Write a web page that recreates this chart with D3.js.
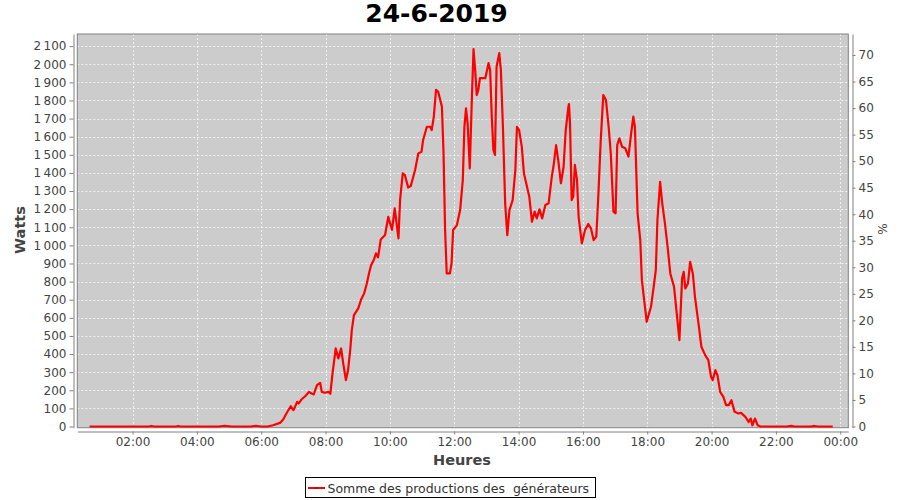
<!DOCTYPE html>
<html>
<head>
<meta charset="utf-8">
<script src="https://cdn.jsdelivr.net/npm/d3@7"></script>
<style>
  html, body { margin: 0; padding: 0; background: #ffffff; }
  svg { display: block; font-family: "DejaVu Sans", sans-serif; }
</style>
</head>
<body>
<svg id="chart" width="900" height="500"></svg>
<script>
// ---- data ----
const chartTitle = "24-6-2019";
const seriesName = "Somme des productions des  générateurs";
const times = [
  "00:40","02:30","02:35","02:40","03:20","03:25","03:30","04:40","04:52","05:05","05:40","05:50","06:00","06:12",
  "06:22","06:35","06:41","06:47","06:55","07:00","07:03","07:07","07:10","07:15","07:22","07:29","07:34","07:38",
  "07:44","07:50","07:53","07:59","08:05","08:09","08:13","08:19","08:24","08:29","08:33","08:38","08:42","08:46",
  "08:49","08:53","09:01","09:06","09:12","09:17","09:21","09:25","09:30","09:34","09:38","09:43","09:51","09:57",
  "10:04","10:09","10:16","10:19","10:24","10:28","10:34","10:39","10:47","10:53","10:59","11:02","11:09","11:15",
  "11:18","11:22","11:26","11:30","11:37","11:40","11:43","11:46","11:52","11:55","11:58","12:05","12:11","12:16",
  "12:19","12:22","12:25","12:29","12:33","12:36","12:39","12:42","12:45","12:48","12:58","13:04","13:07","13:10",
  "13:13","13:16","13:19","13:24","13:27","13:31","13:35","13:39","13:43","13:49","13:54","13:57","14:01","14:06",
  "14:10","14:15","14:20","14:25","14:30","14:34","14:39","14:44","14:50","14:56","15:02","15:05","15:10","15:14",
  "15:19","15:24","15:28","15:33","15:34","15:36","15:39","15:42","15:45","15:49","15:52","15:58","16:04","16:10",
  "16:15","16:20","16:25","16:29","16:33","16:38","16:43","16:48","16:52","16:57","17:01","17:04","17:08","17:13",
  "17:19","17:25","17:30","17:34","17:37","17:42","17:47","17:50","17:59","18:07","18:12","18:16","18:19","18:24",
  "18:28","18:33","18:38","18:43","18:50","18:55","19:00","19:05","19:08","19:11","19:16","19:20","19:25","19:29",
  "19:36","19:41","19:48","19:54","19:59","20:02","20:07","20:11","20:16","20:22","20:27","20:32","20:37","20:43",
  "20:50","20:55","21:03","21:09","21:13","21:16","21:21","21:26","21:31","22:20","22:28","22:35","23:05","23:12",
  "23:18","23:46"
];
const watts = [
  0,0,3,0,0,3,0,0,4,0,0,4,0,0,
  7,20,39,72,112,90,108,136,127,149,167,191,182,177,
  228,241,191,186,191,181,293,431,376,431,348,256,311,422,
  532,615,652,698,735,790,845,891,919,956,934,1033,1057,1158,
  1085,1204,1039,1250,1398,1388,1320,1328,1416,1508,1517,1582,1655,1655,
  1637,1711,1858,1849,1766,1517,1085,845,845,901,1085,1112,1195,1361,
  1655,1757,1674,1425,1821,2083,1969,1830,1858,1923,1923,2006,1969,1711,
  1527,1499,1987,2061,1969,1637,1232,1057,1195,1250,1416,1655,1637,1545,
  1398,1333,1269,1130,1186,1149,1199,1149,1223,1232,1379,1434,1554,1471,
  1343,1434,1637,1766,1780,1674,1250,1269,1444,1361,1158,1011,1085,1118,
  1094,1029,1048,1287,1564,1830,1803,1655,1508,1186,1177,1554,1591,1545,
  1536,1490,1619,1711,1655,1177,1029,808,578,661,771,864,1140,1351,
  1232,1122,992,845,771,624,477,818,854,762,790,909,845,716,
  560,440,394,366,274,256,311,283,191,164,118,118,145,81,
  72,75,53,25,44,7,44,7,0,0,3,0,0,3,
  0,0
];
const leftTicks = d3.range(0, 2101, 100);
const rightTicks = d3.range(0, 71, 5);
const xLabel = "Heures";
const yLabel = "Watts";
const y2Label = "%";

// ---- layout ----
const svg = d3.select("#chart");
const W = 900, H = 500;
const plot = { left: 77.3, right: 848.3, top: 34, bottom: 427.7 };
svg.append("rect").attr("width", W).attr("height", H).attr("fill", "#ffffff");

const day = "2019-06-24";
const parse = d3.timeParse("%Y-%m-%d %H:%M");
const data = times.map((t, i) => ({ t: parse(day + " " + t), v: watts[i] }));

const x = d3.scaleTime()
  .domain([parse(day + " 00:17"), d3.timeMinute.offset(parse(day + " 00:00"), 24 * 60 + 15)])
  .range([plot.left, plot.right]);
const y = d3.scaleLinear().domain([-6.6, 2167]).range([plot.bottom, plot.top]);
const y2 = d3.scaleLinear().domain([-0.23, 73.96]).range([plot.bottom, plot.top]);

// plot background
svg.append("rect")
  .attr("x", plot.left).attr("y", plot.top)
  .attr("width", plot.right - plot.left).attr("height", plot.bottom - plot.top)
  .attr("fill", "#cccccc");

// grid
const xTicks = x.ticks(d3.timeHour.every(2));
const grid = svg.append("g").attr("stroke", "#ffffff").attr("stroke-width", 0.7)
  .attr("stroke-dasharray", "2,2");
grid.selectAll("line.h").data(leftTicks).join("line")
  .attr("x1", plot.left).attr("x2", plot.right)
  .attr("y1", d => Math.round(y(d)) + 0.5).attr("y2", d => Math.round(y(d)) + 0.5);
grid.selectAll("line.v").data(xTicks).join("line")
  .attr("y1", plot.top).attr("y2", plot.bottom)
  .attr("x1", d => Math.round(x(d)) + 0.5).attr("x2", d => Math.round(x(d)) + 0.5);

// plot outline
svg.append("rect")
  .attr("x", plot.left).attr("y", plot.top)
  .attr("width", plot.right - plot.left).attr("height", plot.bottom - plot.top)
  .attr("fill", "none").attr("stroke", "#808080").attr("stroke-width", 1);

// series line
const line = d3.line().x(d => x(d.t)).y(d => y(d.v));
svg.append("path").datum(data)
  .attr("fill", "none").attr("stroke", "#ff0000").attr("stroke-width", 2.2)
  .attr("stroke-linejoin", "round")
  .attr("d", line);

// axes
const fmtLocale = d3.formatLocale({ decimal: ",", thousands: "\u2009", grouping: [3], currency: ["", "€"] });
const fmtW = fmtLocale.format(",d");

function styleAxis(g) {
  g.select(".domain").attr("stroke", "#808080");
  g.selectAll(".tick line").attr("stroke", "#808080");
  g.selectAll(".tick text").attr("fill", "#444444").attr("font-size", "12px")
    .attr("font-family", "DejaVu Sans, sans-serif");
}

svg.append("g").attr("transform", "translate(73.5,0)")
  .call(d3.axisLeft(y).tickValues(leftTicks).tickFormat(fmtW).tickSizeInner(4).tickSizeOuter(0).tickPadding(3))
  .call(styleAxis);

svg.append("g").attr("transform", "translate(852.5,0)")
  .call(d3.axisRight(y2).tickValues(rightTicks).tickSizeInner(3).tickSizeOuter(0).tickPadding(3))
  .call(styleAxis);

svg.append("g").attr("transform", "translate(0,431.5)")
  .call(d3.axisBottom(x).tickValues(xTicks).tickFormat(d3.timeFormat("%H:%M")).tickSizeInner(3).tickSizeOuter(0).tickPadding(3))
  .call(styleAxis);

// titles
svg.append("text").attr("x", 436.5).attr("y", 22).attr("text-anchor", "middle")
  .attr("font-size", "25px").attr("font-weight", "bold").attr("fill", "#000")
  .text(chartTitle);

svg.append("text").attr("x", 462).attr("y", 465).attr("text-anchor", "middle")
  .attr("font-size", "14.5px").attr("font-weight", "bold").attr("fill", "#444444")
  .text(xLabel);

svg.append("text").attr("transform", "translate(25,230) rotate(-90)").attr("text-anchor", "middle")
  .attr("font-size", "14.5px").attr("font-weight", "bold").attr("fill", "#444444")
  .text(yLabel);

svg.append("text").attr("transform", "translate(887,229) rotate(-90)").attr("text-anchor", "middle")
  .attr("font-size", "12px").attr("fill", "#444444")
  .text(y2Label);

// legend
const lg = svg.append("g");
lg.append("rect").attr("x", 305.5).attr("y", 477.5).attr("width", 290).attr("height", 20)
  .attr("fill", "#ffffff").attr("stroke", "#000000").attr("stroke-width", 1);
lg.append("line").attr("x1", 308).attr("x2", 325).attr("y1", 488).attr("y2", 488)
  .attr("stroke", "#ff0000").attr("stroke-width", 2);
lg.append("rect").attr("x", 315).attr("y", 487).attr("width", 3).attr("height", 2).attr("fill", "#cc0000");
lg.append("text").attr("x", 327.5).attr("y", 492.5).attr("font-size", "12.5px").attr("fill", "#333333")
  .style("white-space", "pre")
  .text(seriesName);
</script>
</body>
</html>
